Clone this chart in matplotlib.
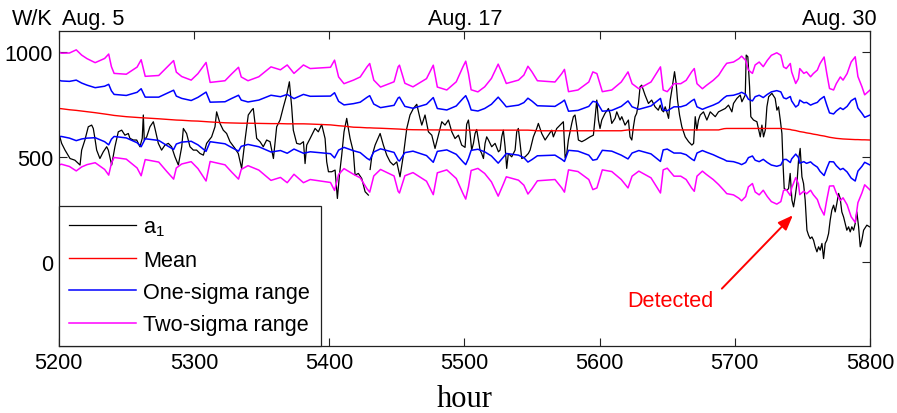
import numpy as np
import matplotlib
matplotlib.use('Agg')
import matplotlib.pyplot as plt

# ---------------- data ----------------
a1_hours = [5200, 5202.2, 5204.7, 5208.4, 5212, 5215.8, 5217, 5219.4, 5221.9, 5224.4, 5225.6, 5226.8,
            5228.1, 5230.5, 5233, 5235.5, 5236.7, 5239.2, 5241.6, 5244.1, 5246.6, 5249, 5251.5, 5252.7,
            5255.2, 5257.7, 5260.1, 5261.8, 5262.6, 5263.3, 5265.1, 5267.5, 5270, 5271.2, 5273.7, 5276.1,
            5278.6, 5281.1, 5283.5, 5286, 5288.5, 5291, 5292.2, 5294.6, 5297.1, 5299.6, 5302, 5304.5,
            5307, 5309.4, 5313.1, 5315.6, 5316.8, 5319.3, 5321.7, 5324.2, 5326.7, 5330.4, 5332.8, 5335.3,
            5337.8, 5340.2, 5342.7, 5343.9, 5345.2, 5346.4, 5348.9, 5351.3, 5353.8, 5356.3, 5358.8, 5361.2,
            5363.7, 5366.2, 5368.6, 5370.6, 5372.3, 5373.5, 5376, 5378.5, 5381, 5382.2, 5383.4, 5385.9,
            5389.6, 5392, 5394.5, 5397, 5398.2, 5399.5, 5401.9, 5404.4, 5406.1, 5407.6, 5409.3, 5411,
            5413, 5414.2, 5415.5, 5417.9, 5419.2, 5421.6, 5424.1, 5426.6, 5429, 5429.6, 5430.3, 5431.5,
            5434, 5437.7, 5440.1, 5442.6, 5445.1, 5447.5, 5450, 5452.4, 5454.9, 5457.4, 5459.8, 5462.3,
            5464.8, 5467.2, 5468.5, 5470.9, 5473.4, 5475.9, 5478.3, 5480.8, 5483.3, 5485.7, 5488.2, 5490.7,
            5493.1, 5495.6, 5498, 5500.5, 5501.7, 5503, 5504.2, 5505.4, 5506.7, 5507.9, 5509.1, 5510.4,
            5511.6, 5512.8, 5514.1, 5515.3, 5516.5, 5517.8, 5520.2, 5522.7, 5525.2, 5526.4, 5527.6, 5528.8,
            5530.1, 5531.3, 5532.5, 5535, 5537.5, 5538.7, 5539.9, 5541.2, 5542.4, 5544.9, 5547.3, 5548.6,
            5549.8, 5551, 5553.5, 5554.7, 5557.2, 5559.7, 5562.1, 5564.6, 5565.8, 5568.3, 5570.8, 5573.2,
            5574.5, 5575.7, 5576.9, 5579.4, 5580.6, 5581.8, 5583.1, 5584.3, 5586.8, 5589.2, 5592.9, 5595.4,
            5597.9, 5599.1, 5600.3, 5601.6, 5604, 5606.5, 5607.7, 5609, 5611.4, 5612.7, 5615.1, 5616.4,
            5618.8, 5621.3, 5622.5, 5623.8, 5625, 5626.2, 5627.4, 5628.7, 5629.9, 5631.1, 5633.6, 5636.1,
            5638.5, 5641, 5643.4, 5644.8, 5646, 5647.3, 5648.5, 5649.7, 5651, 5652.2, 5653.4, 5655.4,
            5656.6, 5657.6, 5659.1, 5660.8, 5663.3, 5665.8, 5668.2, 5669.5, 5670.7, 5671.9, 5673.1, 5674.4,
            5676.8, 5679.3, 5681.8, 5685.5, 5687.9, 5690.4, 5692.9, 5695.3, 5697.8, 5699, 5701.5, 5704,
            5705.2, 5707.7, 5708.4, 5709.6, 5710.9, 5711.8, 5713.8, 5716.3, 5718.8, 5720, 5721.2, 5722.5,
            5723.7, 5725, 5727.4, 5729.8, 5731.1, 5732.3, 5733.6, 5734.8, 5735.6, 5736.5, 5738.5, 5739.7,
            5740.9, 5742.2, 5743.4, 5744.6, 5745.9, 5747.1, 5748.3, 5749.6, 5750.8, 5752, 5753.3, 5754.5,
            5755.7, 5757, 5758.2, 5759.4, 5760.7, 5761.9, 5763.1, 5764.4, 5765.6, 5766.8, 5768, 5769.3,
            5770.5, 5771.7, 5773, 5774.2, 5775.4, 5776.7, 5777.9, 5779.1, 5780.4, 5781.6, 5782.8, 5784.1,
            5785.3, 5786.5, 5787.8, 5789, 5790.2, 5791.5, 5792.7, 5793.9, 5795.2, 5797.6, 5799.6]
a1_values = [615, 564, 532, 492, 484, 461, 532, 580, 643, 651, 635, 588,
             532, 492, 524, 548, 532, 461, 548, 619, 627, 603, 611, 588,
             580, 580, 548, 588, 699, 580, 595, 643, 667, 635, 564, 532,
             556, 564, 548, 500, 461, 548, 635, 611, 548, 532, 532, 516,
             508, 564, 595, 643, 714, 659, 627, 611, 572, 540, 516, 445,
             580, 699, 722, 730, 659, 588, 572, 548, 580, 572, 492, 643,
             675, 738, 794, 857, 738, 627, 564, 560, 572, 468, 556, 587,
             635, 619, 654, 587, 476, 429, 429, 437, 302, 413, 508, 619,
             683, 635, 587, 524, 413, 421, 397, 334, 318, np.nan, 440, 500,
             556, 611, 556, 508, 476, 461, 476, 405, 508, 635, 699, 730,
             750, 683, 651, 699, 619, 603, 540, 603, 667, 651, 675, 619,
             587, 603, 556, 545, 655, 675, 611, 532, 564, 611, 630, 580,
             532, 516, 492, 564, 595, 580, 548, 564, 524, 532, 595, 627,
             548, 445, 516, 500, 532, 619, 635, 564, 492, 500, 516, 532,
             564, 595, 635, 659, 611, 580, 603, 627, 595, 635, 651, 667,
             495, 516, 580, 659, 691, 699, 643, 580, 572, 580, 595, 603,
             770, 675, 635, 675, 707, 730, 707, 659, 683, 714, 675, 691,
             651, 675, 595, 580, 643, 691, 707, 754, 833, 841, 794, 754,
             770, 738, 722, 746, 722, 714, 738, 714, 683, 770, 818, 905,
             849, 770, 699, 643, 595, 572, 556, 564, 691, 627, 675, 699,
             714, 675, 714, 691, 714, 722, 730, 746, 714, 754, 778, 794,
             762, 794, 984, 976, 833, 691, 675, 667, 595, 651, 595, 627,
             738, 786, 802, 778, 722, 738, 675, 611, 470, 349, 341, 349,
             421, 294, 262, 310, 373, 484, 540, 405, 373, 294, 151, 127,
             111, 119, 103, 72, 48, 72, 56, 88, 16, 88, 103, 135,
             199, 246, 270, 238, 278, 326, 302, 238, 214, 183, 151, 167,
             143, 167, 151, 183, 238, 167, 72, 103, 151, 175, 167]

band_hours = [5200, 5202, 5208, 5213, 5217, 5221, 5227, 5234, 5237, 5239, 5241, 5250,
              5258, 5261, 5264, 5274, 5280, 5285, 5287, 5291, 5298, 5303, 5309, 5312,
              5323, 5328, 5333, 5335, 5340, 5348, 5357, 5364, 5369, 5374, 5381, 5386,
              5401, 5404, 5407, 5411, 5418, 5423, 5428, 5430, 5433, 5438, 5448, 5451,
              5452, 5456, 5462, 5472, 5477, 5480, 5487, 5494, 5499, 5501, 5503, 5505,
              5510, 5515, 5520, 5525, 5529, 5531, 5540, 5544, 5547, 5550, 5554, 5567,
              5572, 5574, 5577, 5584, 5592, 5595, 5598, 5602, 5609, 5616, 5621, 5624,
              5629, 5638, 5645, 5647, 5650, 5655, 5660, 5664, 5668, 5670, 5672, 5676,
              5679, 5684, 5688, 5692, 5694, 5699, 5703, 5705, 5708, 5710, 5713, 5715,
              5718, 5721, 5724, 5727, 5731, 5734, 5736, 5738, 5741, 5742, 5745, 5747,
              5748, 5751, 5753, 5756, 5758, 5761, 5763, 5766, 5768, 5770, 5773, 5775,
              5778, 5780, 5783, 5786, 5789, 5791, 5794, 5796, 5800]
band_mean = [730, 729, 724, 721, 718, 715, 710, 704, 701, 699, 697, 691,
             687, 686, 685, 681, 678, 676, 675, 674, 671, 670, 667, 666,
             662, 661, 660, 660, 660, 659, 658, 658, 657, 657, 657, 656,
             652, 650, 648, 646, 641, 640, 638, 638, 637, 636, 633, 632,
             632, 630, 629, 628, 628, 628, 628, 627, 627, 627, 627, 627,
             627, 627, 627, 627, 627, 627, 627, 627, 627, 626, 624, 624,
             624, 624, 624, 624, 624, 624, 624, 624, 624, 624, 628, 628,
             628, 628, 628, 628, 628, 628, 628, 628, 628, 628, 628, 628,
             628, 628, 628, 634, 635, 635, 635, 635, 635, 635, 635, 635,
             635, 635, 635, 635, 635, 635, 634, 632, 630, 628, 625, 622,
             620, 617, 614, 611, 608, 605, 602, 599, 596, 593, 590, 588,
             586, 585, 584, 583, 582, 582, 581, 581, 580]
band_sigma = [135, 132, 135, 144, 133, 126, 119, 132, 144, 115, 100, 101,
              120, 138, 99, 103, 124, 141, 114, 104, 97, 113, 141, 94,
              100, 117, 133, 110, 101, 111, 135, 128, 140, 120, 140, 132,
              137, 155, 116, 101, 112, 120, 145, 153, 114, 98, 112, 148,
              152, 110, 102, 122, 154, 102, 95, 115, 151, 164, 135, 96,
              91, 103, 123, 157, 127, 111, 119, 131, 152, 139, 119, 116,
              136, 146, 93, 97, 116, 140, 136, 93, 97, 116, 138, 110,
              98, 114, 150, 95, 91, 110, 110, 118, 138, 146, 110, 98,
              106, 118, 130, 147, 155, 158, 166, 172, 162, 139, 131, 151,
              158, 147, 162, 174, 180, 174, 147, 144, 157, 138, 112, 125,
              150, 140, 145, 135, 144, 154, 171, 188, 150, 116, 114, 130,
              147, 140, 156, 184, 197, 150, 126, 107, 119]

x_ticks = [5200, 5300, 5400, 5500, 5600, 5700, 5800]
y_ticks = [0, 500, 1000]
series_labels = ['a$_{1}$', 'Mean', 'One-sigma range', 'Two-sigma range']
date_labels = ['Aug. 5', 'Aug. 17', 'Aug. 30']

# ---------------- figure ----------------
plt.rcParams['font.family'] = ['Liberation Sans', 'DejaVu Sans']
plt.rcParams['mathtext.default'] = 'regular'

fig = plt.figure(figsize=(8.97, 4.14), dpi=100)
ax = fig.add_axes([0.0654, 0.1618, 0.9046, 0.7616])

bh = np.array(band_hours, dtype=float)
bm = np.array(band_mean, dtype=float)
bs = np.array(band_sigma, dtype=float)

ax.plot(a1_hours, a1_values, color='black', lw=0.9, label=series_labels[0])
ax.plot(bh, bm, color='#ff0000', lw=1.0, label=series_labels[1])
ax.plot(bh, bm + bs, color='#0000ff', lw=1.1, label=series_labels[2])
ax.plot(bh, bm - bs, color='#0000ff', lw=1.1)
ax.plot(bh, bm + 2 * bs, color='#ff00ff', lw=1.1, label=series_labels[3])
ax.plot(bh, bm - 2 * bs, color='#ff00ff', lw=1.1)

ax.set_xlim(5200, 5800)
ax.set_ylim(-400, 1100)
ax.set_xticks(x_ticks)
ax.set_yticks(y_ticks)
ax.tick_params(direction='in', top=True, right=True, length=6, width=0.8,
               labelsize=15.6, pad=4, color='#222222')
for sp in ax.spines.values():
    sp.set_linewidth(0.9)
    sp.set_color('#222222')

ax.set_xlabel('hour', family='Liberation Serif', fontsize=22, labelpad=8)

leg = ax.legend(loc='lower left', borderaxespad=0, fancybox=False, framealpha=1,
                edgecolor='#222222', fontsize=15.6, handlelength=3.07,
                handletextpad=0.34, borderpad=0.5, labelspacing=0.52)
leg.get_frame().set_linewidth(0.9)

# top annotations
fig.text(12 / 897, 1 - 25 / 414, 'W/K', fontsize=15.6, ha='left', va='baseline')
fig.text(62 / 897, 1 - 25 / 414, date_labels[0], fontsize=15.6, ha='left', va='baseline')
fig.text(465 / 897, 1 - 25 / 414, date_labels[1], fontsize=15.6, ha='center', va='baseline')
fig.text(877 / 897, 1 - 25 / 414, date_labels[2], fontsize=15.6, ha='right', va='baseline')

# detected annotation
ax.annotate('', xy=(5742.9, 222), xytext=(5690.4, -127),
            arrowprops=dict(arrowstyle='-|>,head_length=0.9,head_width=0.35',
                            color='#ff0000', lw=1.4, shrinkA=0, shrinkB=0))
ax.text(5652.1, -182, 'Detected', color='#ff0000', fontsize=15.6, ha='center', va='center')

fig.savefig('out.png', dpi=100)
